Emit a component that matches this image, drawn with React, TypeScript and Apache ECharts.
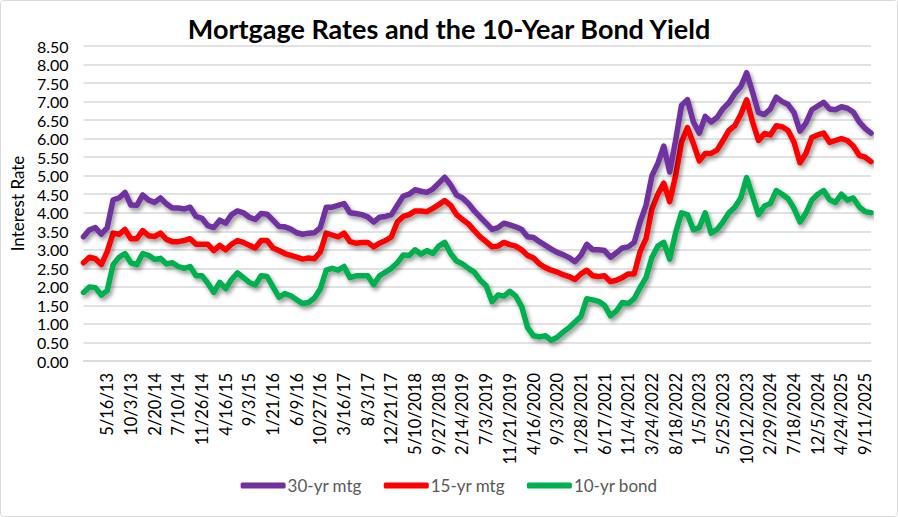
import React, { useEffect, useRef } from "react";
import * as echarts from "echarts";

const tickLabels = [
  "5/16/13", "10/3/13", "2/20/14", "7/10/14", "11/26/14", "4/16/15", "9/3/15", "1/21/16",
  "6/9/16", "10/27/16", "3/16/17", "8/3/17", "12/21/17", "5/10/2018", "9/27/2018", "2/14/2019",
  "7/3/2019", "11/21/2019", "4/16/2020", "9/3/2020", "1/28/2021", "6/17/2021", "11/4/2021",
  "3/24/2022", "8/18/2022", "1/5/2023", "5/25/2023", "10/12/2023", "2/29/2024", "7/18/2024",
  "12/5/2024", "4/24/2025", "9/11/2025",
];

const mtg30 = [
  3.35, 3.54, 3.6, 3.42, 3.6, 4.35, 4.4, 4.55, 4.21, 4.2,
  4.48, 4.34, 4.28, 4.4, 4.24, 4.13, 4.13, 4.1, 4.15, 3.9,
  3.85, 3.65, 3.6, 3.8, 3.72, 3.95, 4.05, 4.0, 3.88, 3.82,
  3.98, 3.96, 3.8, 3.63, 3.62, 3.56, 3.46, 3.42, 3.45, 3.46,
  3.6, 4.15, 4.15, 4.2, 4.25, 4.0, 3.98, 3.95, 3.89, 3.75,
  3.88, 3.9, 3.95, 4.2, 4.45, 4.5, 4.62, 4.58, 4.55, 4.64,
  4.8, 4.96, 4.75, 4.48, 4.4, 4.25, 4.05, 3.88, 3.72, 3.55,
  3.6, 3.72, 3.67, 3.62, 3.55, 3.35, 3.33, 3.22, 3.12, 3.02,
  2.93, 2.87, 2.79, 2.68, 2.85, 3.15, 3.0, 3.0, 2.98, 2.8,
  2.92, 3.05, 3.08, 3.2, 3.75, 4.2, 5.0, 5.33, 5.8, 5.1,
  5.95, 6.9, 7.05, 6.45, 6.15, 6.6, 6.45, 6.57, 6.81, 6.97,
  7.22, 7.4, 7.78, 7.25, 6.7, 6.65, 6.8, 7.12, 7.0, 6.92,
  6.7, 6.2, 6.42, 6.78, 6.88, 6.98, 6.8, 6.78, 6.86, 6.82,
  6.72, 6.45, 6.28, 6.15,
];

const mtg15 = [
  2.65, 2.8, 2.76, 2.6, 2.95, 3.45, 3.42, 3.55, 3.3, 3.3,
  3.52, 3.38, 3.36, 3.45, 3.28, 3.22, 3.22, 3.25, 3.3, 3.15,
  3.15, 3.15, 2.98, 3.12, 3.0, 3.15, 3.25, 3.2, 3.12, 3.05,
  3.25, 3.25, 3.05, 2.98, 2.9, 2.85, 2.8, 2.75, 2.78, 2.76,
  2.95, 3.45, 3.4, 3.35, 3.45, 3.22, 3.18, 3.2, 3.2, 3.08,
  3.18, 3.25, 3.35, 3.75, 3.9, 3.95, 4.05, 4.05, 4.03, 4.12,
  4.22, 4.33, 4.2, 3.95, 3.82, 3.7, 3.52, 3.35, 3.22, 3.08,
  3.1, 3.2, 3.14, 3.1, 3.0, 2.85, 2.78, 2.62, 2.52, 2.45,
  2.4, 2.33, 2.28, 2.2, 2.35, 2.45, 2.3, 2.28, 2.3, 2.14,
  2.18, 2.25, 2.35, 2.35, 2.95, 3.3, 4.1, 4.5, 4.8, 4.3,
  5.0, 5.9, 6.3, 5.87, 5.4, 5.6, 5.6, 5.69, 5.95, 6.22,
  6.35, 6.65, 7.05, 6.45, 5.95, 6.14, 6.1, 6.35, 6.32, 6.22,
  5.9, 5.35, 5.6, 6.03, 6.1, 6.15, 5.9, 5.95, 6.0, 5.95,
  5.8, 5.55, 5.5, 5.38,
];

const bond10 = [
  1.85, 2.0, 1.98, 1.78, 1.9, 2.6, 2.8, 2.9, 2.65, 2.6,
  2.9, 2.85, 2.74, 2.77, 2.62, 2.65, 2.55, 2.5, 2.55, 2.3,
  2.3, 2.1, 1.85, 2.12, 1.95, 2.2, 2.38, 2.25, 2.12, 2.05,
  2.3, 2.28, 2.0, 1.72, 1.82, 1.76, 1.65, 1.55, 1.58, 1.7,
  1.95, 2.45, 2.5, 2.45, 2.55, 2.25, 2.3, 2.3, 2.3, 2.06,
  2.3, 2.4, 2.5, 2.65, 2.86, 2.85, 3.0, 2.88, 2.98, 2.9,
  3.1, 3.2, 2.9, 2.7, 2.62, 2.5, 2.4, 2.18, 2.03, 1.6,
  1.78, 1.75, 1.88, 1.75, 1.47, 0.9, 0.68, 0.65, 0.68, 0.56,
  0.64, 0.78, 0.9, 1.05, 1.2, 1.68, 1.65, 1.61, 1.5, 1.22,
  1.35, 1.58, 1.55, 1.68, 1.98, 2.25, 2.8, 3.1, 3.2, 2.75,
  3.46, 4.0, 3.95, 3.54, 3.6, 4.0, 3.45, 3.55, 3.75, 4.0,
  4.15, 4.4, 4.95, 4.45, 3.95, 4.18, 4.25, 4.6, 4.5, 4.38,
  4.12, 3.75, 3.99, 4.34, 4.5, 4.6, 4.35, 4.28, 4.5, 4.34,
  4.4, 4.16, 4.03, 4.0,
];

const seriesNames = ["30-yr mtg", "15-yr mtg", "10-yr bond"];
const seriesColors = ["#7030A0", "#FF0000", "#00B050"];

function buildCategories(n: number): string[] {
  const start = new Date(2012, 11, 27);
  const out: string[] = [];
  for (let i = 0; i < n; i++) {
    const d = new Date(start.getTime() + i * 35 * 86400000);
    out.push(`${d.getMonth() + 1}/${d.getDate()}/${d.getFullYear()}`);
  }
  return out;
}

export default function App() {
  const ref = useRef<HTMLDivElement>(null);

  useEffect(() => {
    document.body.style.margin = "0";
    if (!ref.current) return;
    const chart = echarts.init(ref.current, undefined, { renderer: "svg" });
    const categories = buildCategories(mtg30.length);
    const font = "Lato, 'Open Sans', sans-serif";
    const datasets = [mtg30, mtg15, bond10];

    chart.setOption({
      animation: false,
      backgroundColor: "#ffffff",
      title: {
        text: "Mortgage Rates and the 10-Year Bond Yield",
        left: "center",
        top: 9,
        textStyle: { fontFamily: font, fontSize: 27, fontWeight: "bold", color: "#000000" },
      },
      legend: {
        bottom: 17,
        left: "center",
        itemWidth: 45,
        itemHeight: 6,
        itemGap: 22,
        icon: "roundRect",
        textStyle: { fontFamily: font, fontSize: 17, color: "#595959", padding: [0, 0, 0, -3] },
        data: seriesNames,
      },
      grid: { left: 77, right: 26, top: 45, bottom: 155, containLabel: false },
      xAxis: {
        type: "category",
        data: categories,
        boundaryGap: false,
        axisLine: { show: true, lineStyle: { color: "#D9D9D9", width: 1.5 } },
        axisTick: { show: false },
        splitLine: { show: false },
        axisLabel: {
          rotate: 90,
          fontFamily: font,
          fontSize: 16.5,
          color: "#000000",
          margin: 12,
          interval: (index: number) => index > 0 && index % 4 === 0,
          formatter: (_v: string, index: number) => tickLabels[index / 4 - 1] ?? "",
        },
      },
      yAxis: {
        type: "value",
        min: 0,
        max: 8.5,
        interval: 0.5,
        name: "Interest Rate",
        nameLocation: "middle",
        nameRotate: 90,
        nameGap: 52,
        nameTextStyle: { fontFamily: font, fontSize: 17, color: "#000000" },
        axisLine: { show: false },
        axisTick: { show: false },
        splitLine: { lineStyle: { color: "#D9D9D9", width: 1.5 } },
        axisLabel: {
          fontFamily: font,
          fontSize: 16,
          color: "#000000",
          margin: 15,
          formatter: (v: number) => v.toFixed(2),
        },
      },
      series: datasets.map((d, i) => ({
        name: seriesNames[i],
        type: "line",
        data: d,
        showSymbol: false,
        symbol: "none",
        color: seriesColors[i],
        lineStyle: {
          width: 5.5,
          color: seriesColors[i],
          cap: "round",
          join: "round",
          shadowColor: "rgba(0,0,0,0.4)",
          shadowBlur: 4,
          shadowOffsetX: 2,
          shadowOffsetY: 3,
        },
        z: 3 - i,
      })),
    });

    return () => chart.dispose();
  }, []);

  return (
    <div
      style={{
        position: "absolute",
        left: 0,
        top: 0,
        width: 898,
        height: 517,
        boxSizing: "border-box",
        border: "1px solid #D9D9D9",
        borderRadius: 4,
        overflow: "hidden",
      }}
    >
      <div ref={ref} style={{ width: 896, height: 515 }} />
    </div>
  );
}
